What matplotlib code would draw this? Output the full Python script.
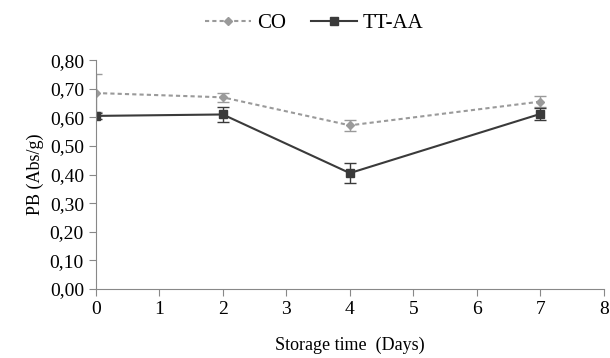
import matplotlib
matplotlib.use('Agg')
import matplotlib.pyplot as plt
from matplotlib.lines import Line2D

days = [0, 2, 4, 7]
co = [0.685, 0.670, 0.572, 0.655]
co_err = [0.068, 0.015, 0.020, 0.020]
tt = [0.605, 0.610, 0.405, 0.612]
tt_err = [0.010, 0.025, 0.035, 0.020]

xticks = [0, 1, 2, 3, 4, 5, 6, 7, 8]
yticks = [0.0, 0.1, 0.2, 0.3, 0.4, 0.5, 0.6, 0.7, 0.8]

plt.rcParams['font.family'] = ['Liberation Serif', 'DejaVu Serif']

fig = plt.figure(figsize=(6.1, 3.58), dpi=100)
ax = fig.add_axes([0.157, 0.193, 0.833, 0.639])

co_style = dict(color='#9a9a9a', ls=(0, (2, 1.5)), lw=1.5, marker='D', ms=4.5)
tt_style = dict(color='#3a3a3a', ls='-', lw=1.5, marker='s', ms=6)

# CO series
ax.errorbar(days, co, yerr=co_err, capsize=4, elinewidth=1, capthick=1, **co_style)
# TT-AA series
ax.errorbar(days, tt, yerr=tt_err, capsize=4, elinewidth=1, capthick=1, **tt_style)

ax.set_xlim(0, 8)
ax.set_ylim(0, 0.8)
ax.set_xticks(xticks)
ax.set_yticks(yticks)
ax.set_yticklabels(['{:.2f}'.format(v).replace('.', ',') for v in yticks])
ax.tick_params(labelsize=14, color='#888888', length=5, direction='out')
ax.spines['top'].set_visible(False)
ax.spines['right'].set_visible(False)
ax.spines['left'].set_color('#888888')
ax.spines['bottom'].set_color('#888888')
ax.set_xlabel('Storage time  (Days)', fontsize=13, labelpad=14)
ax.set_ylabel('PB (Abs/g)', fontsize=13)

handles = [Line2D([], [], **co_style), Line2D([], [], **tt_style)]
fig.legend(handles, ['CO', 'TT-AA'], loc='upper center', bbox_to_anchor=(0.515, 1.015),
           ncol=2, frameon=False, fontsize=15, handlelength=2.2,
           columnspacing=1.2, handletextpad=0.3)

fig.savefig('out.png', dpi=100)
